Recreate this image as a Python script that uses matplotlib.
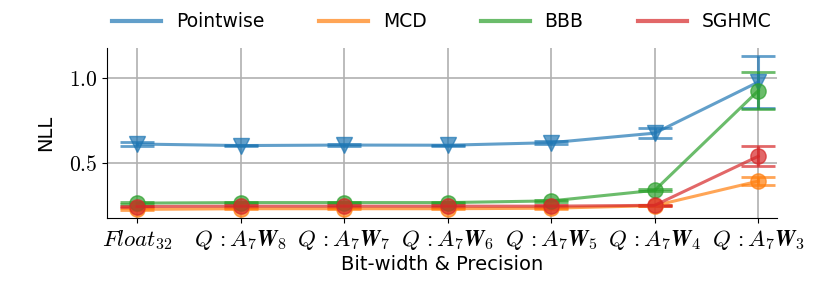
import matplotlib
matplotlib.use("Agg")
import matplotlib.pyplot as plt
from matplotlib.lines import Line2D
import numpy as np

plt.rcParams['mathtext.fontset'] = 'cm'
plt.rcParams['font.family'] = ['DejaVu Sans']

labels = [r"$Float_{32}$", r"$Q\,:A_7\mathbfit{W}_\mathbf{8}$", r"$Q\,:A_7\mathbfit{W}_\mathbf{7}$",
          r"$Q\,:A_7\mathbfit{W}_\mathbf{6}$", r"$Q\,:A_7\mathbfit{W}_\mathbf{5}$",
          r"$Q\,:A_7\mathbfit{W}_\mathbf{4}$", r"$Q\,:A_7\mathbfit{W}_\mathbf{3}$"]
methods = ["Pointwise", "MCD", "BBB", "SGHMC"]
pointwise = [0.612, 0.603, 0.606, 0.605, 0.620, 0.676, 0.976]
pointwise_err = [0.012, 0.004, 0.004, 0.004, 0.008, 0.028, 0.155]
mcd = [0.228, 0.232, 0.232, 0.232, 0.235, 0.250, 0.394]
mcd_err = [0.006, 0.004, 0.004, 0.004, 0.004, 0.004, 0.025]
bbb = [0.265, 0.268, 0.268, 0.268, 0.278, 0.340, 0.925]
bbb_err = [0.005, 0.004, 0.004, 0.004, 0.005, 0.006, 0.108]
sghmc = [0.245, 0.247, 0.247, 0.247, 0.247, 0.252, 0.540]
sghmc_err = [0.005, 0.004, 0.004, 0.004, 0.004, 0.004, 0.060]

colors = ['#1f77b4', '#ff7f0e', '#2ca02c', '#d62728']
series = [pointwise, mcd, bbb, sghmc]
errs = [pointwise_err, mcd_err, bbb_err, sghmc_err]
markers = ['v', 'o', 'o', 'o']

fig = plt.figure(figsize=(8.3, 2.91), dpi=100)
ax = fig.add_axes([0.129, 0.25, 0.807, 0.585])
x = np.arange(len(labels))
for s, e, c, m in zip(series, errs, colors, markers):
    ax.errorbar(x, s, yerr=e, color=c, marker=m, markersize=11, linewidth=2.2,
                alpha=0.7, capsize=12, capthick=2, elinewidth=2.2)
ax.set_xticks(x)
ax.set_xticklabels(labels, fontsize=16.5)
ax.set_yticks([0.5, 1.0])
ax.set_yticklabels([r"$0.5$", r"$1.0$"], fontsize=15.5)
ax.set_xlim(-0.29, 6.18)
ax.set_ylim(0.176, 1.176)
ax.grid(True, color='#b0b0b0', linewidth=1.2)
ax.set_axisbelow(True)
ax.spines['top'].set_visible(False)
ax.spines['right'].set_visible(False)
ax.set_ylabel("NLL", fontsize=14, labelpad=10)
ax.set_xlabel("Bit-width & Precision", fontsize=14, labelpad=2)
handles = [Line2D([0], [0], color=c, lw=3, alpha=0.7) for c in colors]
ax.legend(handles, methods, ncol=4, loc='lower center', bbox_to_anchor=(0.5, 1.0),
          frameon=False, fontsize=13.5, columnspacing=2.9, handlelength=2.6)
fig.savefig("out.png", dpi=100)
